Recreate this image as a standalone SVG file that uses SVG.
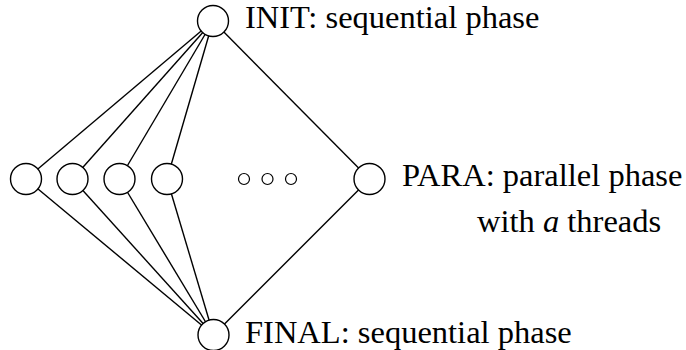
<svg xmlns="http://www.w3.org/2000/svg" width="686" height="350" viewBox="0 0 686 350">
  <style>
    .node { fill: #ffffff; stroke: #000000; stroke-width: 1.4; }
    .dot { fill: #ffffff; stroke: #000000; stroke-width: 1.2; }
    .edge { stroke: #000000; stroke-width: 1.4; fill: none; }
    text { font-family: 'Liberation Serif', serif; font-size: 32.5px; fill: #000000; }
  </style>
  <rect width="686" height="350" fill="#ffffff"/>

  <!-- connectors: drawn centre to centre, nodes are painted on top -->
  <g id="connectors">
    <line class="edge" x1="213" y1="21" x2="26" y2="179"/>
    <line class="edge" x1="213" y1="21" x2="72.5" y2="179"/>
    <line class="edge" x1="213" y1="21" x2="119.5" y2="179"/>
    <line class="edge" x1="213" y1="21" x2="167" y2="179"/>
    <line class="edge" x1="213" y1="21" x2="369.5" y2="179"/>
    <line class="edge" x1="213.5" y1="335" x2="26" y2="179"/>
    <line class="edge" x1="213.5" y1="335" x2="72.5" y2="179"/>
    <line class="edge" x1="213.5" y1="335" x2="119.5" y2="179"/>
    <line class="edge" x1="213.5" y1="335" x2="167" y2="179"/>
    <line class="edge" x1="213.5" y1="335" x2="369.5" y2="179"/>
  </g>

  <g id="init">
    <circle class="node" cx="213" cy="21" r="15.5"/>
    <text x="245" y="28" font-family="Liberation Serif, serif">INIT: sequential phase</text>
  </g>

  <g id="thread1"><circle class="node" cx="26" cy="179" r="15.5"/></g>
  <g id="thread2"><circle class="node" cx="72.5" cy="179" r="15.5"/></g>
  <g id="thread3"><circle class="node" cx="119.5" cy="179" r="15.5"/></g>
  <g id="thread4"><circle class="node" cx="167" cy="179" r="15.5"/></g>

  <g id="ellipsis">
    <circle class="dot" cx="244" cy="179" r="5.5"/>
    <circle class="dot" cx="267.5" cy="179" r="5.5"/>
    <circle class="dot" cx="291" cy="179" r="5.5"/>
  </g>

  <g id="para">
    <circle class="node" cx="369.5" cy="179" r="15.5"/>
    <text x="402" y="186" font-family="Liberation Serif, serif">PARA: parallel phase</text>
    <text x="477" y="232" font-family="Liberation Serif, serif">with <tspan font-style="italic">a</tspan> threads</text>
  </g>

  <g id="final">
    <circle class="node" cx="213.5" cy="335" r="15.5"/>
    <text x="245" y="343" font-family="Liberation Serif, serif">FINAL: sequential phase</text>
  </g>
</svg>
